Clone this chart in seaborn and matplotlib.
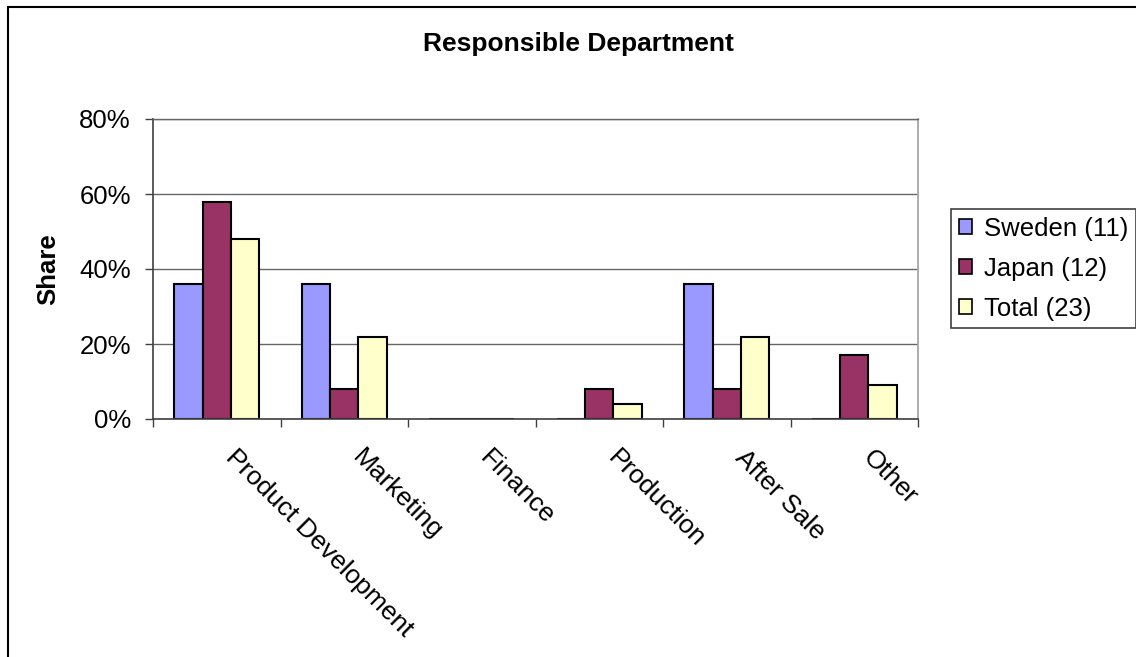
import matplotlib
matplotlib.use("Agg")
import matplotlib.pyplot as plt
from matplotlib.patches import Patch, Rectangle
from matplotlib.ticker import FixedLocator, FuncFormatter
from matplotlib.transforms import ScaledTranslation
import numpy as np
import pandas as pd
import seaborn as sns

# Share of responses (%) by responsible department
departments = ["Product Development", "Marketing", "Finance", "Production", "After Sale", "Other"]
groups = ["Sweden (11)", "Japan (12)", "Total (23)"]
sweden = [36, 36, 0, 0, 36, 0]
japan = [58, 8, 0, 8, 8, 17]
total = [48, 22, 0, 4, 22, 9]
y_ticks = [0, 20, 40, 60, 80]
colors = ["#9999FF", "#993366", "#FFFFCC"]

rows = []
for g, vals in zip(groups, [sweden, japan, total]):
    for d, v in zip(departments, vals):
        rows.append({"Department": d, "Group": g, "Share": v})
df = pd.DataFrame(rows)

sns.set_style("white")
plt.rcParams["font.family"] = ["Liberation Sans", "DejaVu Sans"]
plt.rcParams["text.color"] = "black"
plt.rcParams["xtick.color"] = "black"
plt.rcParams["ytick.color"] = "black"
plt.rcParams["axes.labelcolor"] = "black"

W, H = 1136, 657
fig = plt.figure(figsize=(W / 100, H / 100), dpi=100)
ax = fig.add_axes([153 / W, 1 - 419 / H, (918 - 153) / W, (419 - 119) / H])

sns.barplot(data=df, x="Department", y="Share", hue="Group", order=departments,
            hue_order=groups, palette=colors, saturation=1, width=0.667,
            edgecolor="black", linewidth=1.5, errorbar=None, legend=False,
            ax=ax, zorder=3)

ax.set_xlim(-0.5, len(departments) - 0.5)
ax.set_ylim(0, 80)

# horizontal gridlines
ax.yaxis.set_major_locator(FixedLocator(y_ticks))
ax.yaxis.set_major_formatter(FuncFormatter(lambda v, p: f"{v:.0f}%"))
ax.grid(axis="y", color="#666666", linewidth=1, zorder=0)
ax.grid(axis="x", visible=False)
ax.set_axisbelow(True)

for side in ["left", "bottom"]:
    ax.spines[side].set_color("#404040")
    ax.spines[side].set_linewidth(1.2)
ax.spines["top"].set_color("#666666")
ax.spines["top"].set_linewidth(1)
ax.spines["right"].set_color("#a0a0a0")
ax.spines["right"].set_linewidth(1.2)
for s in ax.spines.values():
    s.set_zorder(4)

ax.tick_params(axis="y", which="major", length=6, width=1, color="#404040",
               direction="out", left=True, labelsize=18.5, labelcolor="black", pad=10)

# category boundaries carry the x tick marks; labels sit under the centres
ax.set_xticks(np.arange(len(departments)))
ax.set_xticks(np.arange(len(departments) + 1) - 0.5, minor=True)
ax.tick_params(axis="x", which="minor", length=6, width=1, color="#404040",
               direction="out", bottom=True)
ax.tick_params(axis="x", which="major", length=0, pad=19, labelsize=19,
               labelcolor="black")
ax.set_xticklabels(departments, rotation=-45, ha="left", va="top",
                   rotation_mode="anchor")
shift = ScaledTranslation(15 / 72, 0, fig.dpi_scale_trans)
for tick in ax.xaxis.get_major_ticks():
    tick.label1.set_transform(tick.label1.get_transform() + shift)

ax.set_xlabel("")
ax.set_ylabel("Share", fontsize=18.5, fontweight="bold", va="center", color="black")
ax.yaxis.set_label_coords((48 - 153) / (918 - 153), 0.5)

fig.text(578 / W, 1 - 44 / H, "Responsible Department", ha="center", va="center",
         fontsize=19, fontweight="bold", color="black")

handles = [Patch(facecolor=c, edgecolor="black", linewidth=1.2) for c in colors]
leg = fig.legend(handles, groups, loc="upper left",
                 bbox_to_anchor=(951 / W, 1 - 209 / H), bbox_transform=fig.transFigure,
                 borderaxespad=0, fontsize=18.5, frameon=True, fancybox=False,
                 framealpha=1, edgecolor="#404040", handlelength=0.52,
                 handleheight=0.55, handletextpad=0.45, labelspacing=0.62,
                 borderpad=0.3, labelcolor="black")
leg.get_frame().set_linewidth(1.2)

# outer chart border
fig.patches.append(Rectangle((8 / W, -0.2), 1.5, 1 - 7 / H + 0.2, transform=fig.transFigure,
                             fill=False, edgecolor="black", linewidth=1.5, zorder=10))

fig.savefig("out.png", dpi=100)
